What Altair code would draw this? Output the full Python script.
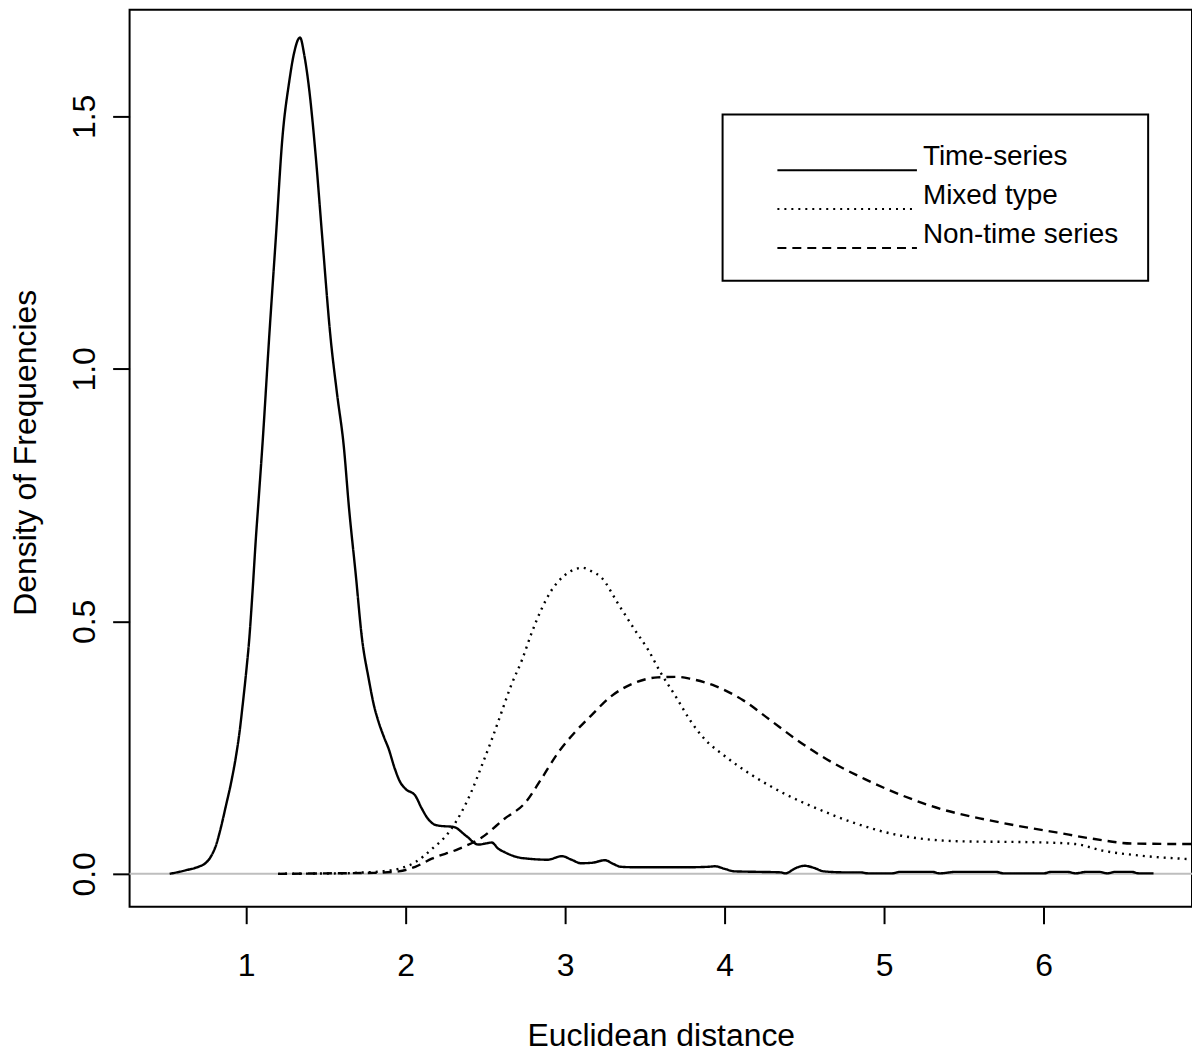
import altair as alt
import pandas as pd

FONT = "Liberation Sans, Arial, sans-serif"

series_names = ["Time-series", "Mixed type", "Non-time series"]

ts_x = [0.52, 0.62, 0.70, 0.74, 0.78, 0.81, 0.84, 0.873, 0.905, 0.936, 0.96, 0.977, 1.0, 1.019,
        1.04, 1.06, 1.08, 1.102, 1.144, 1.186, 1.227, 1.27, 1.30, 1.3375, 1.365, 1.394, 1.435,
        1.477, 1.529, 1.57, 1.6125, 1.644, 1.686, 1.727, 1.769, 1.80, 1.831, 1.865, 1.894, 1.93,
        1.967, 2.00, 2.06, 2.10, 2.14, 2.185, 2.22, 2.30, 2.38, 2.456, 2.50, 2.54, 2.58, 2.62,
        2.70, 2.77, 2.89, 2.98, 3.04, 3.10, 3.17, 3.25, 3.30, 3.35, 3.45, 3.56, 3.75, 3.90, 3.94,
        4.00, 4.06, 4.20, 4.35, 4.38, 4.45, 4.50, 4.56, 4.62, 4.75, 4.85, 4.90, 5.05, 5.10, 5.30,
        5.35, 5.45, 5.70, 5.75, 6.00, 6.05, 6.15, 6.20, 6.27, 6.35, 6.40, 6.45, 6.55, 6.60, 6.69]
ts_y = [0.0, 0.007, 0.014, 0.02, 0.035, 0.056, 0.09, 0.135, 0.18, 0.233, 0.285, 0.332, 0.40, 0.464,
        0.56, 0.661, 0.75, 0.85, 1.062, 1.26, 1.457, 1.569, 1.625, 1.656, 1.62, 1.556, 1.425,
        1.26, 1.062, 0.95, 0.845, 0.727, 0.596, 0.464, 0.385, 0.335, 0.30, 0.27, 0.247, 0.21,
        0.181, 0.168, 0.155, 0.13, 0.109, 0.097, 0.095, 0.093, 0.075, 0.058, 0.06, 0.062, 0.05, 0.043,
        0.033, 0.030, 0.028, 0.035, 0.028, 0.021, 0.022, 0.027, 0.02, 0.014, 0.013, 0.013, 0.013, 0.014, 0.015,
        0.01, 0.005, 0.004, 0.003, 0.001, 0.012, 0.016, 0.012, 0.005, 0.003, 0.003, 0.001, 0.001, 0.004, 0.004,
        0.001, 0.004, 0.004, 0.001, 0.001, 0.004, 0.004, 0.001, 0.004, 0.004, 0.001, 0.004, 0.004, 0.001, 0.001]

mix_x = [1.20, 1.40, 1.60, 1.75, 1.85, 1.956, 2.06, 2.164, 2.27, 2.35, 2.41, 2.477, 2.54, 2.60,
         2.66, 2.73, 2.79, 2.85, 2.91, 3.00, 3.06, 3.11, 3.16, 3.23, 3.33, 3.435, 3.52, 3.60,
         3.70, 3.78, 3.877, 3.99, 4.164, 4.38, 4.59, 4.83, 5.10, 5.48, 5.96, 6.20, 6.37, 6.61, 6.93]
mix_y = [0.0, 0.0005, 0.001, 0.003, 0.005, 0.01, 0.023, 0.049, 0.082, 0.122, 0.161, 0.214, 0.266, 0.319,
         0.372, 0.424, 0.477, 0.523, 0.559, 0.592, 0.603, 0.606, 0.600, 0.586, 0.536, 0.484, 0.444, 0.398,
         0.348, 0.306, 0.266, 0.236, 0.197, 0.158, 0.128, 0.099, 0.076, 0.0645, 0.0625, 0.059, 0.046, 0.036, 0.029]

non_x = [1.20, 1.50, 1.80, 1.956, 2.06, 2.164, 2.33, 2.477, 2.62, 2.75, 2.85, 2.956, 3.06, 3.16,
         3.29, 3.435, 3.58, 3.70, 3.79, 3.94, 4.12, 4.28, 4.45, 4.64, 4.88, 5.12, 5.36, 5.60,
         5.84, 6.08, 6.32, 6.56, 6.93]
non_y = [0.0, 0.001, 0.002, 0.005, 0.014, 0.03, 0.049, 0.072, 0.109, 0.141, 0.1875, 0.24, 0.28, 0.3125,
         0.352, 0.378, 0.389, 0.39, 0.386, 0.372, 0.343, 0.306, 0.266, 0.227, 0.1875, 0.1545, 0.128, 0.110,
         0.095, 0.082, 0.069, 0.060, 0.059]

x_ticks = [1, 2, 3, 4, 5, 6]
y_ticks = [0.0, 0.5, 1.0, 1.5]

rows = []
for name, xs, ys in zip(series_names, [ts_x, mix_x, non_x], [ts_y, mix_y, non_y]):
    for a, b in zip(xs, ys):
        rows.append({"series": name, "x": a, "y": b})
df = pd.DataFrame(rows)

x_scale = alt.Scale(domain=[0.26875, 6.93125], nice=False, zero=False)
y_scale = alt.Scale(domain=[-0.0651, 1.711], nice=False, zero=False)

x_axis = alt.Axis(values=x_ticks, format="d", tickSize=17, tickWidth=2, tickColor="black",
                  domain=False, grid=False, labelFontSize=32, labelFont=FONT, labelColor="black",
                  labelBaseline="alphabetic", labelPadding=52, labelFlush=False,
                  title="Euclidean distance", titleFontSize=32, titleFont=FONT,
                  titleFontWeight="normal", titleColor="black", titleBaseline="alphabetic",
                  titleY=139)
y_axis = alt.Axis(values=y_ticks, format=".1f", tickSize=17, tickWidth=2, tickColor="black",
                  domain=False, grid=False, labelFontSize=32, labelFont=FONT, labelColor="black",
                  labelAngle=270, labelAlign="center", labelBaseline="alphabetic", labelPadding=18,
                  labelFlush=False,
                  title="Density of Frequencies", titleFontSize=32, titleFont=FONT,
                  titleFontWeight="normal", titleColor="black", titleAngle=270,
                  titleAlign="center", titleBaseline="alphabetic", titleX=-94, titleY=444)

zero = alt.Chart(pd.DataFrame({"y": [0.0]})).mark_rule(color="#bebebe", strokeWidth=2).encode(
    y=alt.Y("y:Q", scale=y_scale, axis=y_axis)
)

lines = alt.Chart(df).mark_line(color="black", strokeWidth=2.4, clip=True, interpolate="monotone").encode(
    x=alt.X("x:Q", scale=x_scale, axis=x_axis),
    y=alt.Y("y:Q", scale=y_scale, axis=y_axis),
    detail="series:N",
    strokeDash=alt.StrokeDash(
        "series:N",
        scale=alt.Scale(domain=series_names, range=[[1, 0], [2, 5], [9, 6]]),
        sort=series_names,
        legend=alt.Legend(
            title=None, orient="none", legendX=595, legendY=105,
            symbolType="M-7,1.3H7", symbolSize=400, symbolStrokeWidth=2,
            symbolStrokeColor="black", symbolFillColor="transparent",
            labelFontSize=28, labelFont=FONT, labelColor="black", labelLimit=0,
            padding=29, rowPadding=8, symbolOffset=82, labelOffset=62,
            strokeColor="black",
        ),
    ),
)

chart = alt.layer(zero, lines).properties(
    width=1066, height=900,
    padding={"left": 122, "top": 0, "right": 0, "bottom": 146},
    autosize=alt.AutoSizeParams(type="none"),
).configure(font=FONT).configure_view(stroke="black", strokeWidth=2).configure_legend(strokeWidth=2)

chart.save("out.html", embed_options={"renderer": "svg", "actions": False})
